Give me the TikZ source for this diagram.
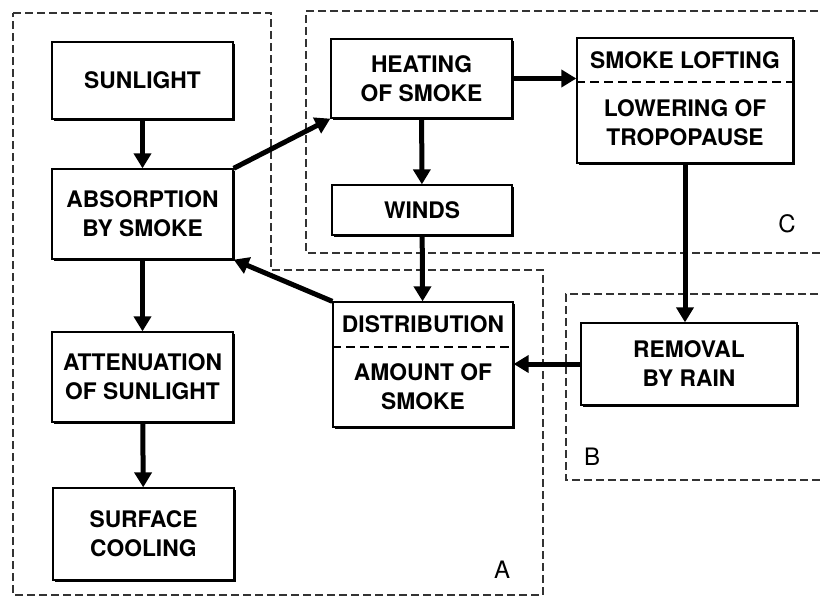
\documentclass[tikz,border=0pt]{standalone}
\usepackage{fontspec}
\setmainfont{TeX Gyre Heros}
\usetikzlibrary{arrows.meta,shadows}

\begin{document}
\begin{tikzpicture}[x=1pt, y=-1pt,
  box/.style={draw, rectangle, line width=1.3pt, fill=white, align=center,
    font=\bfseries\fontsize{22.8}{29}\selectfont,
    drop shadow={shadow xshift=1.6pt, shadow yshift=-1.6pt, fill=black, opacity=1}},
  boxtext/.style={align=center, font=\bfseries\fontsize{22.8}{29}\selectfont},
  flow/.style={-{Triangle[length=15pt, width=17pt]}, line width=5pt},
  region/.style={dashed, dash pattern=on 8pt off 4pt, line width=1.3pt, black!80},
  divider/.style={dash pattern=on 9pt off 5pt, line width=1.2pt},
  zone/.style={font=\fontsize{24}{28}\selectfont}]
\path[use as bounding box, clip] (0,0) rectangle (820,597);

% Regions A, B and C
\draw[region] (13,13) -- (271,13) -- (271,270) -- (543,270) -- (543,595) -- (13,595) -- cycle;
\draw[region] (830,11) -- (306,11) -- (306,253) -- (830,253);
\draw[region] (830,294) -- (566,294) -- (566,480) -- (830,480);
\node[zone] (labA) at (502,570) {A};
\node[zone] (labB) at (592,457) {B};
\node[zone] (labC) at (787,224) {C};

% Left column
\node[box, minimum width=181pt, minimum height=77pt] (sun) at (142.5,80.5) {SUNLIGHT};
\node[box, minimum width=181pt, minimum height=90pt] (absorb) at (142.5,214) {ABSORPTION\\BY SMOKE};
\node[box, minimum width=181pt, minimum height=90pt] (atten) at (142.5,377) {ATTENUATION\\OF SUNLIGHT};
\node[box, minimum width=181pt, minimum height=92pt] (cool) at (143.5,534) {SURFACE\\COOLING};

% Middle column
\node[box, minimum width=181pt, minimum height=79pt] (heat) at (421.5,78.5) {HEATING\\OF SMOKE};
\node[box, minimum width=180pt, minimum height=50pt] (winds) at (422,210) {WINDS};
\node[box, minimum width=180pt, minimum height=125pt] (dist) at (423,364.5) {};
\draw[divider] (dist.west |- 0,347) -- (dist.east |- 0,347);
\node[boxtext] (distA) at (423,324.5) {DISTRIBUTION};
\node[boxtext] (distB) at (423,387) {AMOUNT OF\\SMOKE};

% Right column
\node[box, minimum width=216pt, minimum height=125pt] (loft) at (685,100.5) {};
\draw[divider] (loft.west |- 0,82) -- (loft.east |- 0,82);
\node[boxtext] (loftA) at (685,60) {SMOKE LOFTING};
\node[boxtext] (loftB) at (685,122.5) {LOWERING OF\\TROPOPAUSE};
\node[box, minimum width=216pt, minimum height=82pt] (rain) at (689,364) {REMOVAL\\BY RAIN};

% Arrows
\draw[flow] (sun) -- (absorb);
\draw[flow] (absorb) -- (atten);
\draw[flow] (atten) -- (cool);
\draw[flow] (absorb.north east) -- (heat.south west);
\draw[flow] (heat.east) -- (heat.east -| loft.west);
\draw[flow] (heat) -- (winds);
\draw[flow] (winds) -- (dist);
\draw[flow] (loft.south) -- (loft.south |- rain.north);
\draw[flow] (rain.west) -- (rain.west -| dist.east);
\draw[flow] (dist.north west) -- (absorb.south east);
\end{tikzpicture}
\end{document}
